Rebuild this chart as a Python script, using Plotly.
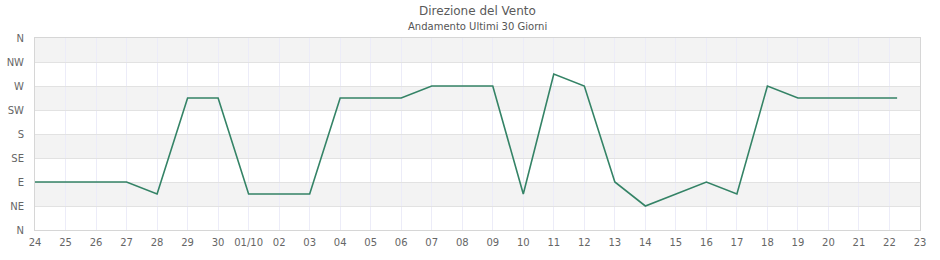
import plotly.graph_objects as go

# Data
dates = ["2024-09-24", "2024-09-25", "2024-09-26", "2024-09-27", "2024-09-28",
         "2024-09-29", "2024-09-30", "2024-10-01", "2024-10-02", "2024-10-03",
         "2024-10-04", "2024-10-05", "2024-10-06", "2024-10-07", "2024-10-08",
         "2024-10-09", "2024-10-10", "2024-10-11", "2024-10-12", "2024-10-13",
         "2024-10-14", "2024-10-15", "2024-10-16", "2024-10-17", "2024-10-18",
         "2024-10-19", "2024-10-20", "2024-10-21", "2024-10-22", "2024-10-22 06:00"]
direction_deg = [90, 90, 90, 90, 67.5,
                 247.5, 247.5, 67.5, 67.5, 67.5,
                 247.5, 247.5, 247.5, 270, 270,
                 270, 67.5, 292.5, 270, 90,
                 45, 67.5, 90, 67.5, 270,
                 247.5, 247.5, 247.5, 247.5, 247.5]

tick_dates = ["2024-09-24", "2024-09-25", "2024-09-26", "2024-09-27", "2024-09-28",
              "2024-09-29", "2024-09-30", "2024-10-01", "2024-10-02", "2024-10-03",
              "2024-10-04", "2024-10-05", "2024-10-06", "2024-10-07", "2024-10-08",
              "2024-10-09", "2024-10-10", "2024-10-11", "2024-10-12", "2024-10-13",
              "2024-10-14", "2024-10-15", "2024-10-16", "2024-10-17", "2024-10-18",
              "2024-10-19", "2024-10-20", "2024-10-21", "2024-10-22", "2024-10-23"]
tick_labels = ["24", "25", "26", "27", "28", "29", "30", "01/10", "02", "03",
               "04", "05", "06", "07", "08", "09", "10", "11", "12", "13",
               "14", "15", "16", "17", "18", "19", "20", "21", "22", "23"]

y_vals = [0, 45, 90, 135, 180, 225, 270, 315, 360]
y_labels = ["N", "NE", "E", "SE", "S", "SW", "W", "NW", "N"]

title = "Direzione del Vento"
subtitle = "Andamento Ultimi 30 Giorni"

fig = go.Figure()
fig.add_trace(go.Scatter(x=dates, y=direction_deg, mode="lines",
                         line=dict(color="#348366", width=1.6),
                         hoverinfo="x+y", showlegend=False))

# alternating bands
shapes = []
for i in range(len(y_vals) - 1):
    if i % 2 == 1:
        shapes.append(dict(type="rect", xref="paper", yref="y", x0=0, x1=1,
                           y0=y_vals[i], y1=y_vals[i + 1],
                           fillcolor="#f3f3f3", line=dict(width=0), layer="below"))

plot_h = 260 - 38 - 30
fig.update_layout(
    width=940, height=260,
    margin=dict(l=35, r=20, t=38, b=30),
    paper_bgcolor="white", plot_bgcolor="white",
    font=dict(family="DejaVu Sans", size=10, color="#666666"),
    shapes=shapes,
    annotations=[
        dict(text=title, x=0.5, xref="paper", y=1 + (38 - 11) / plot_h, yref="paper",
             yanchor="middle", showarrow=False, font=dict(size=12, color="#5a5a5a")),
        dict(text=subtitle, x=0.5, xref="paper", y=1 + (38 - 26) / plot_h, yref="paper",
             yanchor="middle", showarrow=False, font=dict(size=10, color="#555555")),
    ],
)

fig.update_xaxes(type="date", range=["2024-09-24", "2024-10-23"],
                 tickvals=tick_dates, ticktext=tick_labels, tickangle=0,
                 showgrid=True, gridcolor="#ececf8", gridwidth=1,
                 showline=True, linecolor="#d6d6d6", linewidth=1, mirror=True,
                 zeroline=False, ticks="", ticklen=0, automargin=False,
                 ticklabelstandoff=3,
                 tickfont=dict(size=10, color="#666666"))
fig.update_yaxes(range=[0, 360], tickvals=y_vals, ticktext=y_labels,
                 showgrid=True, gridcolor="#e2e2e2", gridwidth=1,
                 showline=True, linecolor="#d6d6d6", linewidth=1, mirror=True,
                 zeroline=False, ticks="", ticklabelstandoff=8, automargin=False,
                 tickfont=dict(size=10, color="#666666"))

fig.write_html("out.html")
